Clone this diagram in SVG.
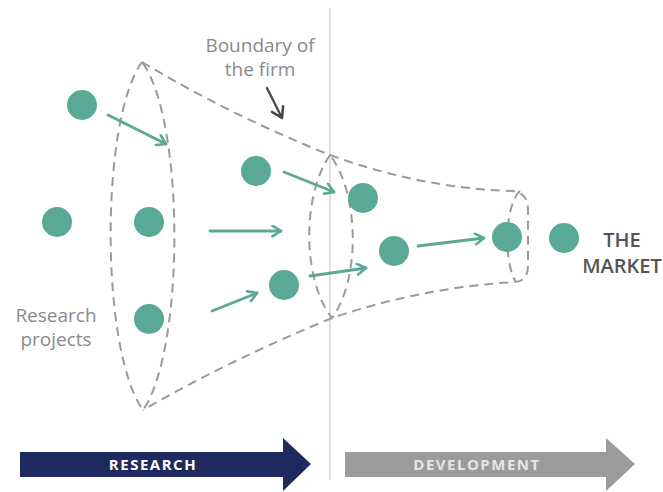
<svg xmlns="http://www.w3.org/2000/svg" width="663" height="492" viewBox="0 0 663 492">
<defs>
<style>
.dash{fill:none;stroke:#9a9a9a;stroke-width:2;stroke-dasharray:9 6;}
.dot{fill:#5aa997;}
.flow{fill:none;stroke:#5aa997;stroke-width:2.8;stroke-linecap:round;stroke-linejoin:round;}
.lbl{font-family:"Open Sans","Liberation Sans",sans-serif;fill:#8a8a8a;font-size:19px;}
.bar{font-family:"Open Sans","Liberation Sans",sans-serif;font-weight:bold;font-size:15px;letter-spacing:1.5px;}
</style>
<marker id="ah" viewBox="0 0 12 12" refX="10" refY="6" markerWidth="13" markerHeight="13" markerUnits="userSpaceOnUse" orient="auto">
<path d="M2,1 L10,6 L2,11" fill="none" stroke="#5aa997" stroke-width="2.4" stroke-linecap="round" stroke-linejoin="round"/>
</marker>
<marker id="ah2" viewBox="0 0 12 12" refX="10" refY="6" markerWidth="15" markerHeight="15" markerUnits="userSpaceOnUse" orient="auto">
<path d="M2,1 L10,6 L2,11" fill="none" stroke="#444" stroke-width="2" stroke-linecap="round" stroke-linejoin="round"/>
</marker>
</defs>
<rect width="663" height="492" fill="#fff"/>
<line x1="330" y1="8" x2="330" y2="480" stroke="#d0d0d0" stroke-width="1.3"/>
<g id="funnel">
<path class="dash" d="M142,62 C100,120 100,350 143,410 C185,350 185,120 142,62 Z"/>
<path class="dash" d="M330,155 C302,195 302,280 332,318 C360,280 360,195 330,155 Z"/>
<path class="dash" d="M142,62 Q230,115 330,155 Q420,188 512,191 Q528,192 528,210 L528,265 Q528,282 514,282 Q420,288 332,318 Q230,360 143,410"/>
<path class="dash" d="M520,191 C504,205 504,265 516,282"/>
</g>
<g id="connectors">
<line class="flow" x1="108" y1="115" x2="166" y2="144" marker-end="url(#ah)"/>
<line class="flow" x1="210" y1="231" x2="281" y2="231" marker-end="url(#ah)"/>
<line class="flow" x1="212" y1="311" x2="257" y2="293" marker-end="url(#ah)"/>
<line class="flow" x1="284" y1="172" x2="334" y2="192" marker-end="url(#ah)"/>
<line class="flow" x1="310" y1="276" x2="366" y2="268" marker-end="url(#ah)"/>
<line class="flow" x1="418" y1="246" x2="484" y2="238" marker-end="url(#ah)"/>
<line x1="267" y1="88" x2="282" y2="118" stroke="#444" stroke-width="2.2" stroke-linecap="round" marker-end="url(#ah2)"/>
</g>
<g id="n1"><circle class="dot" cx="82" cy="105" r="15"/></g>
<g id="n2"><circle class="dot" cx="57" cy="222" r="15"/></g>
<g id="n3"><circle class="dot" cx="149" cy="222" r="15"/></g>
<g id="n4"><circle class="dot" cx="149" cy="319" r="15"/></g>
<g id="n5"><circle class="dot" cx="256" cy="171" r="15"/></g>
<g id="n6"><circle class="dot" cx="284" cy="285" r="15"/></g>
<g id="n7"><circle class="dot" cx="363" cy="198" r="15"/></g>
<g id="n8"><circle class="dot" cx="394" cy="251" r="15"/></g>
<g id="n9"><circle class="dot" cx="507" cy="237" r="15"/></g>
<g id="n10"><circle class="dot" cx="564" cy="238" r="15"/></g>
<g id="labels">
<text class="lbl" x="260" y="52" text-anchor="middle">Boundary of</text>
<text class="lbl" x="260" y="76" text-anchor="middle">the firm</text>
<text class="lbl" x="56" y="322" text-anchor="middle">Research</text>
<text class="lbl" x="56" y="346" text-anchor="middle">projects</text>
<text x="622" y="247" text-anchor="middle" font-family="'Open Sans','Liberation Sans',sans-serif" font-size="20" font-weight="600" fill="#555">THE</text>
<text x="622" y="273" text-anchor="middle" font-family="'Open Sans','Liberation Sans',sans-serif" font-size="20" font-weight="600" fill="#555">MARKET</text>
</g>
<g id="research-arrow">
<path d="M20,452 L283,452 L283,438 L311,464 L283,491 L283,477 L20,477 Z" fill="#1e2a5e"/>
<text class="bar" x="153" y="470" text-anchor="middle" fill="#ffffff">RESEARCH</text>
</g>
<g id="development-arrow">
<path d="M345,452 L606,452 L606,438 L635,464 L606,491 L606,477 L345,477 Z" fill="#9b9b9b"/>
<text class="bar" x="477" y="470" text-anchor="middle" fill="#e6e6e6">DEVELOPMENT</text>
</g>
</svg>
